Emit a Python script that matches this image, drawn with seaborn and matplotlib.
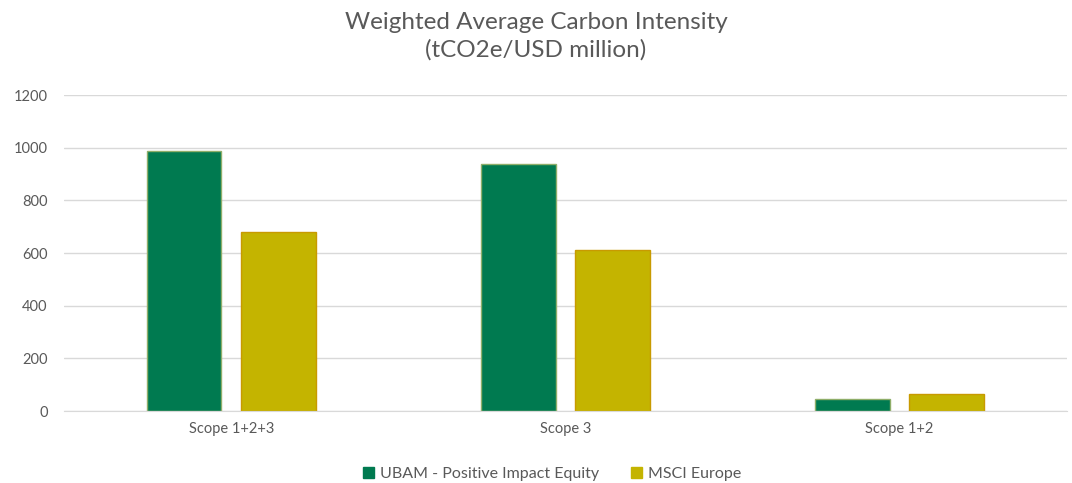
import pandas as pd
import numpy as np
import matplotlib.pyplot as plt
import seaborn as sns
from matplotlib.patches import Patch

# Chart data
scopes = ['Scope 1+2+3', 'Scope 3', 'Scope 1+2']
series = ['UBAM - Positive Impact Equity', 'MSCI Europe']
ubam_values = [988, 939, 46]
msci_values = [680, 611, 66]

df = pd.DataFrame({
    'Scope': scopes * 2,
    'Series': [series[0]] * 3 + [series[1]] * 3,
    'Value': ubam_values + msci_values,
})

sns.set_style('white')
plt.rcParams['font.family'] = ['Lato', 'DejaVu Sans']

fill_colors = ['#007A50', '#C4B400']
edge_colors = ['#8FAE6A', '#C89A00']
text_color = '#595959'

fig = plt.figure(figsize=(10.72, 4.83), dpi=100)
ax = fig.add_axes([0.060, 0.149, 0.935, 0.654])

sns.barplot(data=df, x='Scope', y='Value', hue='Series', order=scopes,
            hue_order=series, palette=fill_colors, saturation=1,
            width=0.563, gap=0.21, ax=ax, legend=False)

# edges per series
for container, ec in zip(ax.containers, edge_colors):
    for bar in container:
        bar.set_edgecolor(ec)
        bar.set_linewidth(1.0)

ax.set_ylim(0, 1200)
ax.set_xlim(-0.5, 2.5)
ax.set_yticks(np.arange(0, 1201, 200))
ax.yaxis.grid(True, color='#D9D9D9', linewidth=1)
ax.set_axisbelow(True)
for side in ['top', 'right', 'left']:
    ax.spines[side].set_visible(False)
ax.spines['bottom'].set_color('#D9D9D9')
ax.tick_params(axis='x', length=0, colors=text_color, labelsize=10.5, pad=8)
ax.tick_params(axis='y', length=0, colors=text_color, labelsize=10.5, pad=12)
ax.set_xlabel('')
ax.set_ylabel('')

fig.suptitle('Weighted Average Carbon Intensity\n(tCO2e/USD million)',
             color=text_color, fontsize=17.5, y=0.975, linespacing=1.35)

handles = [Patch(facecolor=c, edgecolor=c) for c in fill_colors]
fig.legend(handles, series, loc='lower center', bbox_to_anchor=(0.515, -0.025),
           ncol=2, frameon=False, fontsize=11.5, labelcolor=text_color,
           handlelength=0.7, handleheight=0.7, handletextpad=0.35, columnspacing=2.0)

fig.savefig('out.png', dpi=100)
